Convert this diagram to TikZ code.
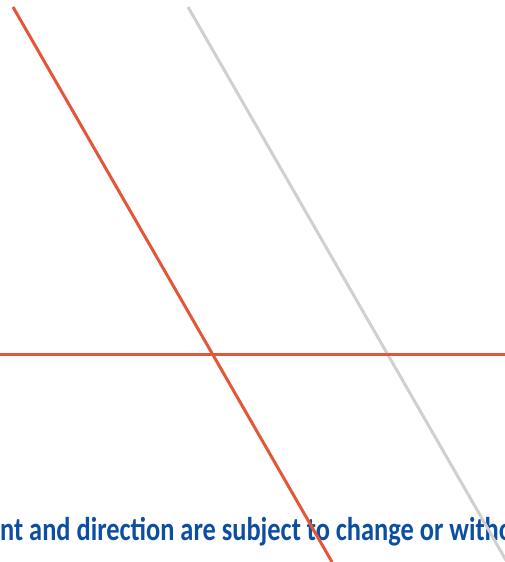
\documentclass[tikz,border=0pt]{standalone}
\usepackage{fontspec}
\setmainfont{Carlito}
\definecolor{lred}{RGB}{226,86,58}
\definecolor{lgray}{RGB}{208,208,208}
\definecolor{tblue}{RGB}{12,78,162}
\begin{document}
\begin{tikzpicture}[x=1pt,y=1pt,
  redline/.style={draw=lred,line width=3pt},
  grayline/.style={draw=lgray,line width=3pt},
  note/.style={text=tblue,font=\fontsize{33}{40}\selectfont\bfseries,inner sep=0pt,anchor=base west}]
\useasboundingbox (0,0) rectangle (505,562);
\clip (0,0) rectangle (505,562);
\node[note] (txt) at (0,21) {\scalebox{0.8}[1]{nt and direction are subject to change or witho}};
\coordinate (rtop) at (13,555);
\coordinate (rbot) at (332,0);
\coordinate (gtop) at (188,555);
\coordinate (gbot) at (507,0);
\coordinate (hl) at (0,207);
\coordinate (hr) at (505,207);
\draw[grayline] (gtop) -- (gbot);
\draw[redline] (hl) -- (hr);
\draw[redline] (rtop) -- (rbot);
\end{tikzpicture}
\end{document}
